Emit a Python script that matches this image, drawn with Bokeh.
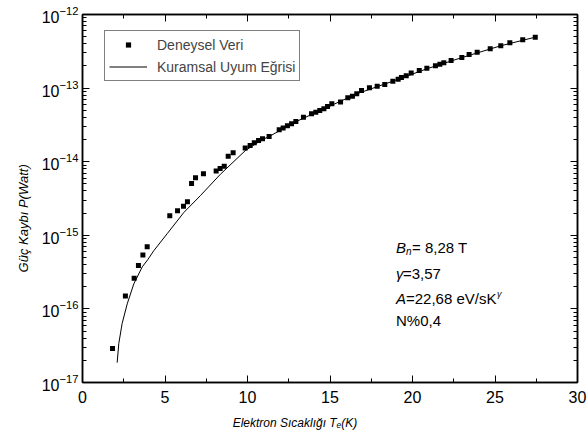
from bokeh.plotting import figure
from bokeh.models import (LinearAxis, FixedTicker, Legend, LegendItem, Label,
                          CustomJSTickFormatter)
from bokeh.embed import file_html
from bokeh.resources import INLINE

# Experimental data (Deneysel Veri)
temp_exp = [1.82, 2.60, 3.13, 3.39, 3.66, 3.92, 5.29, 5.76, 6.12, 6.36, 6.61, 6.85, 7.33,
            8.10, 8.34, 8.59, 8.83, 9.13, 9.86, 10.16, 10.41, 10.67, 10.91, 11.31, 11.92,
            12.16, 12.42, 12.67, 12.93, 13.39, 13.88, 14.14, 14.38, 14.63, 14.85, 15.11,
            15.64, 16.08, 16.36, 16.62, 16.91, 17.39, 17.86, 18.32, 18.81, 19.13, 19.33,
            19.62, 19.92, 20.41, 20.87, 21.39, 21.66, 21.90, 22.34, 22.99, 23.43, 23.92,
            24.71, 25.35, 25.90, 26.68, 27.44]
power_exp = [2.9e-17, 1.5e-16, 2.6e-16, 3.9e-16, 5.4e-16, 7.0e-16, 1.84e-15, 2.15e-15,
             2.49e-15, 2.85e-15, 5.06e-15, 6.04e-15, 6.84e-15, 7.5e-15, 8.1e-15, 8.7e-15,
             1.19e-14, 1.32e-14, 1.53e-14, 1.66e-14, 1.81e-14, 1.94e-14, 2.05e-14, 2.20e-14,
             2.71e-14, 2.88e-14, 3.07e-14, 3.27e-14, 3.52e-14, 4.02e-14, 4.47e-14, 4.71e-14,
             4.96e-14, 5.23e-14, 5.62e-14, 6.12e-14, 6.45e-14, 7.38e-14, 7.77e-14, 8.35e-14,
             9.26e-14, 1.01e-13, 1.06e-13, 1.12e-13, 1.24e-13, 1.32e-13, 1.39e-13, 1.47e-13,
             1.60e-13, 1.73e-13, 1.86e-13, 2.01e-13, 2.11e-13, 2.21e-13, 2.37e-13, 2.61e-13,
             2.86e-13, 3.08e-13, 3.42e-13, 3.76e-13, 4.12e-13, 4.53e-13, 4.92e-13]

# Theoretical fit curve (Kuramsal Uyum Egrisi)
temp_fit = [2.10, 2.20, 2.40, 2.71, 3.11, 3.62, 3.96, 4.32, 5.13, 6.14, 7.15, 8.36, 9.86,
            10.9, 11.3, 12.9, 14.6, 16.6, 18.8, 20.9, 23.0, 25.35, 27.44]
power_fit = [1.86e-17, 3.39e-17, 6.31e-17, 1.17e-16, 2.19e-16, 3.72e-16, 4.68e-16, 6.17e-16,
             1.05e-15, 2.04e-15, 3.47e-15, 6.76e-15, 1.41e-14, 2.00e-14, 2.19e-14, 3.47e-14,
             5.19e-14, 8.32e-14, 1.24e-13, 1.84e-13, 2.60e-13, 3.76e-13, 4.92e-13]

x_ticks = [0, 5, 10, 15, 20, 25, 30]
x_minor = [2.5, 7.5, 12.5, 17.5, 22.5, 27.5]
y_ticks = [1e-17, 1e-16, 1e-15, 1e-14, 1e-13, 1e-12]
y_minor = [m * d for d in y_ticks[:-1] for m in range(2, 10)]

FONT = "Liberation Sans"

p = figure(width=587, height=445, x_range=(0, 30), y_range=(1e-17, 1e-12),
           y_axis_type="log", output_backend="svg", toolbar_location=None,
           min_border_left=82, min_border_right=10, min_border_top=14, min_border_bottom=63)
p.grid.visible = False
p.outline_line_color = "black"
p.outline_line_width = 1.5
p.background_fill_color = "white"
p.border_fill_color = "white"

xt = FixedTicker(ticks=x_ticks, minor_ticks=x_minor)
yt = FixedTicker(ticks=y_ticks, minor_ticks=y_minor)

def style(ax):
    ax.axis_line_width = 1.5
    ax.axis_line_color = "black"
    ax.major_tick_in = 7
    ax.major_tick_out = 0
    ax.minor_tick_in = 4
    ax.minor_tick_out = 0
    ax.major_tick_line_color = "black"
    ax.minor_tick_line_color = "black"
    ax.major_label_text_font = FONT
    ax.major_label_text_color = "black"
    ax.axis_label_text_color = "black"

xa = p.xaxis[0]
xa.ticker = xt
style(xa)
xa.major_label_text_font_size = "16px"
xa.major_label_standoff = 8
xa.axis_label = "Elektron Sıcaklığı Tₑ(K)" + "\u00a0" * 21
xa.axis_label_text_font = FONT
xa.axis_label_text_font_style = "italic"
xa.axis_label_text_font_size = "12px"
xa.axis_label_standoff = 10

ya = p.yaxis[0]
ya.ticker = yt
style(ya)
ya.major_label_text_font_size = "16px"
ya.major_label_standoff = 4
ya.axis_label = "Güç Kaybı P(Watt)" + "\u00a0" * 11
ya.axis_label_text_font = FONT
ya.axis_label_text_font_style = "italic"
ya.axis_label_text_font_size = "13px"
ya.axis_label_standoff = 8

blank = CustomJSTickFormatter(code="return ''")
top = LinearAxis(ticker=xt, formatter=blank, major_label_standoff=0)
style(top)
p.add_layout(top, "above")
right = LinearAxis(ticker=yt, formatter=blank, major_label_standoff=0)
style(right)
p.add_layout(right, "right")

ln = p.line(temp_fit, power_fit, line_color="black", line_width=1)
sc = p.scatter(temp_exp, power_exp, marker="square", size=5, fill_color="black", line_color=None)

legend = Legend(items=[LegendItem(label="Deneysel Veri", renderers=[sc]),
                       LegendItem(label="Kuramsal Uyum Eğrisi", renderers=[ln])],
                location=(22, 301), padding=4, spacing=3, margin=0,
                glyph_width=38, glyph_height=13, label_height=19, label_standoff=10,
                label_text_font=FONT, label_text_font_size="14px",
                border_line_color="black", border_line_width=1,
                background_fill_color="white", background_fill_alpha=1)
p.add_layout(legend, "center")

# annotation block
ax0 = 19.0
def lab(text, y, xoff=0, yoff=0, size="15px", style="normal"):
    p.add_layout(Label(x=ax0, y=y, x_offset=xoff, y_offset=yoff, text=text,
                       text_font=FONT, text_font_size=size, text_font_style=style,
                       text_baseline="middle", text_color="black"))

y1, y2, y3, y4 = 6.8e-16, 3.03e-16, 1.38e-16, 6.95e-17
lab("B", y1, style="italic")
lab("n", y1, xoff=10, yoff=-4, size="10px", style="italic")
lab("= 8,28 T", y1, xoff=16)
lab("γ", y2, style="italic")
lab("=3,57", y2, xoff=7)
lab("A", y3, style="italic")
lab("=22,68 eV/sK", y3, xoff=10)
lab("γ", y3, xoff=101, yoff=5, size="9px", style="italic")
lab("N%0,4", y4)

open("out.html", "w").write(file_html(p, INLINE))
